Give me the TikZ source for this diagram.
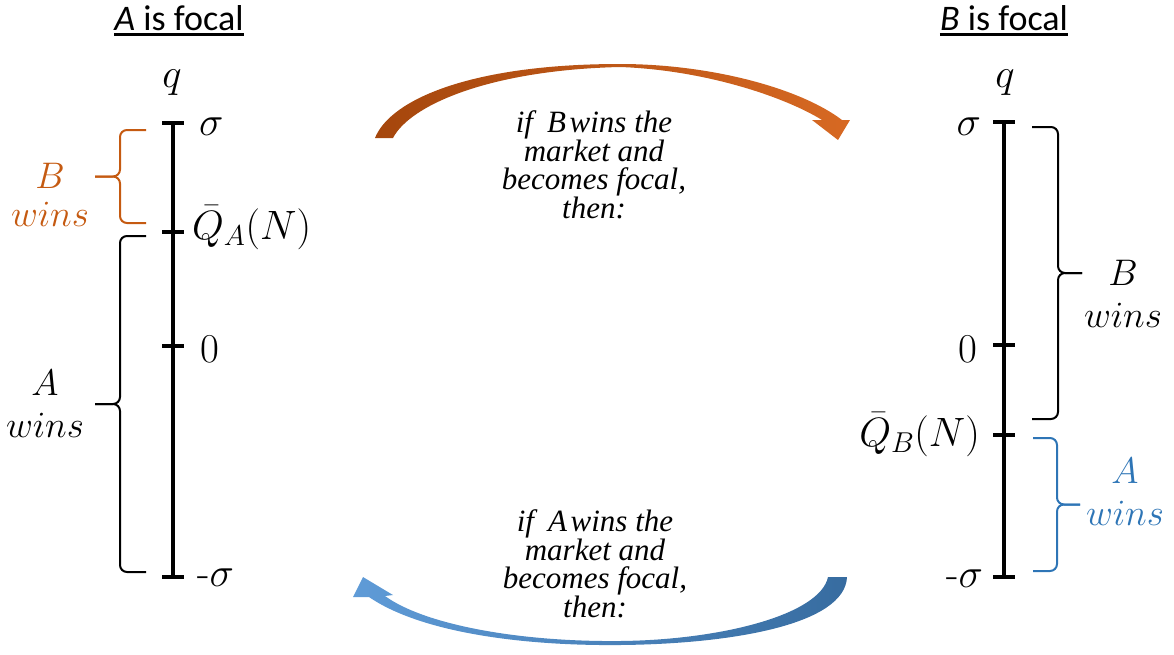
\RequirePackage{fix-cm}
\documentclass[tikz,border=0pt]{standalone}
\usepackage{fontspec}
\newfontfamily\tsans{Carlito}
\newfontfamily\tserif{Liberation Serif}
\definecolor{orangeC}{RGB}{197,90,17}
\definecolor{blueC}{RGB}{46,117,182}
\definecolor{arrOrgL}{RGB}{165,70,12}
\definecolor{arrOrgR}{RGB}{215,105,35}
\definecolor{arrBluL}{RGB}{95,155,215}
\definecolor{arrBluR}{RGB}{55,108,160}

% a curly brace: style, x of the free ends, x of the spine, x of the tip, y top, y bottom
\newcommand{\drawbrace}[6]{%
  \draw[#1] (#2,#5) -- (#3,#5) -- (#3,{(#5+#6)/2}) -- (#4,{(#5+#6)/2});
  \draw[#1] (#2,#6) -- (#3,#6) -- (#3,{(#5+#6)/2}) -- (#4,{(#5+#6)/2});}

\begin{document}
\begin{tikzpicture}[x=1pt,y=-1pt,
  axisline/.style={line width=3.5pt},
  tickmark/.style={line width=3.5pt},
  bracestyle/.style={line width=2pt, rounded corners=7pt},
  mathlbl/.style={font=\fontsize{41}{44}\selectfont, inner sep=0pt},
  winlbl/.style={font=\fontsize{37}{42}\selectfont, align=center, inner sep=0pt},
  caption/.style={font=\tserif\itshape\fontsize{31}{28.5}\selectfont, align=center, inner sep=0pt},
  heading/.style={font=\tsans\fontsize{36}{38}\selectfont, inner sep=0pt},
  uline/.style={line width=2.5pt}]
\useasboundingbox (0,0) rectangle (1174,654);

% ---------- headings ----------
\node[heading, anchor=base] (tA) at (179,30) {\textit{A} is focal};
\node[heading, anchor=base] (tB) at (1004,30) {\textit{B} is focal};
\draw[uline] ([yshift=-4.5pt]tA.base west) -- ([yshift=-4.5pt]tA.base east);
\draw[uline] ([yshift=-4.5pt]tB.base west) -- ([yshift=-4.5pt]tB.base east);

% ---------- left axis: A is focal ----------
\coordinate (Atop) at (173,123);
\coordinate (AQ)   at (173,232);
\coordinate (A0)   at (173,346);
\coordinate (Abot) at (173,577);
\draw[axisline] (Atop) -- (Abot);
\foreach \p in {Atop,AQ,A0,Abot}
  \draw[tickmark] ([xshift=-11pt]\p) -- ([xshift=11pt]\p);

\node[mathlbl, anchor=base] (qA) at (172,87) {$q$};
\node[mathlbl, anchor=base west] (sA) at (199,135) {$\sigma$};
\node[mathlbl, anchor=base west] (QA) at (192,239) {$\bar{Q}_A(N)$};
\node[mathlbl, anchor=base west] (zA) at (200,362) {0};
\node[mathlbl, anchor=base west] (msA) at (197,586) {-$\sigma$};

\drawbrace{bracestyle, orangeC}{146}{120}{95}{130}{223}
\drawbrace{bracestyle, black}{146}{120}{95}{236}{572}
\node[winlbl, text=orangeC, font=\fontsize{37}{38}\selectfont] (Bw) at (50,195) {$B$\\$wins$};
\node[winlbl] (Aw) at (45,404) {$A$\\$wins$};

% ---------- right axis: B is focal ----------
\coordinate (Btop) at (1004,122);
\coordinate (B0)   at (1004,345);
\coordinate (BQ)   at (1004,435);
\coordinate (Bbot) at (1004,577);
\draw[axisline] (Btop) -- (Bbot);
\foreach \p in {Btop,B0,BQ,Bbot}
  \draw[tickmark] ([xshift=-11pt]\p) -- ([xshift=11pt]\p);

\node[mathlbl, anchor=base] (qB) at (1005,87) {$q$};
\node[mathlbl, anchor=base east] (sB) at (981,135) {$\sigma$};
\node[mathlbl, anchor=base east] (zB) at (978,362) {0};
\node[mathlbl, anchor=base east] (QB) at (980,446) {$\bar{Q}_B(N)$};
\node[mathlbl, anchor=base east] (msB) at (983,587) {-$\sigma$};

\drawbrace{bracestyle, black}{1032}{1058}{1082}{127}{419}
\drawbrace{bracestyle, blueC}{1033}{1057}{1080}{438}{571}
\node[winlbl] (Bw2) at (1123,294) {$B$\\$wins$};
\node[winlbl, text=blueC] (Aw2) at (1125,492) {$A$\\$wins$};

% ---------- curved transition arrows ----------
% upper arrow: A focal -> B focal
\path[left color=arrOrgL, right color=arrOrgR]
  (375,138) .. controls (390,100) and (470,64) .. (620,64)
            .. controls (710,64) and (800,88) .. (842,120)
  -- (850,120) -- (838,140) -- (812,120) -- (822,120)
            .. controls (785,97) and (705,70) .. (620,67)
            .. controls (490,70) and (410,105) .. (393,138)
  -- cycle;
% lower arrow: B focal -> A focal
\path[left color=arrBluL, right color=arrBluR]
  (828,577) .. controls (820,615) and (720,640) .. (620,641)
            .. controls (520,642) and (425,625) .. (385,596)
  -- (393,595) -- (363,577) -- (353,597) -- (369,597)
            .. controls (420,632) and (520,646) .. (620,645)
            .. controls (730,644) and (845,625) .. (847,577)
  -- cycle;

\node[caption] (capTop) at (594,165) {if\hspace{0.45em}\textit{B}\hspace{0.12em}wins the\\market and\\becomes focal,\\then:};
\node[caption] (capBot) at (595,564) {if\hspace{0.45em}\textit{A}\hspace{0.12em}wins the\\market and\\becomes focal,\\then:};
\end{tikzpicture}
\end{document}
